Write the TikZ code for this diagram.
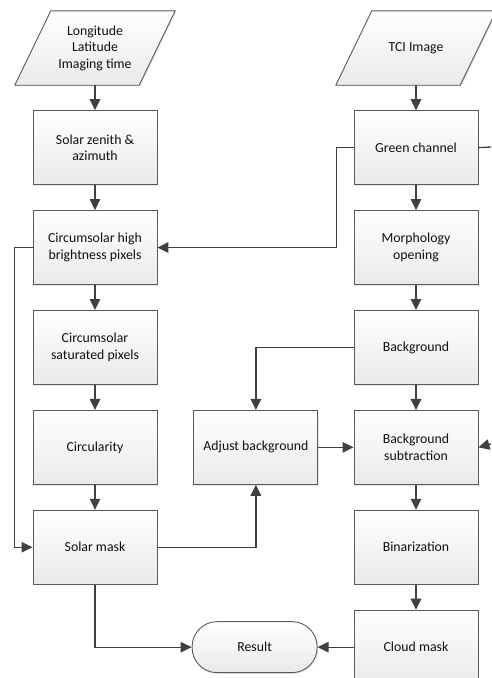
\documentclass[tikz,border=0pt]{standalone}
\usepackage{fontspec}
\setmainfont{Carlito}
\usepackage{tikz}
\usetikzlibrary{arrows.meta,positioning,shadows,backgrounds}

\definecolor{lineclr}{HTML}{404040}
\definecolor{edgeclr}{HTML}{5A5A5A}
\definecolor{txtclr}{HTML}{101010}

\begin{document}
\begin{tikzpicture}[
    x=1pt, y=-1pt,
    node distance=25pt,
    font=\fontsize{13.8}{16.5}\selectfont, text=txtclr,
    boxfill/.style={draw=edgeclr, line width=0.9pt, top color=white, bottom color=gray!17,
        drop shadow={shadow xshift=1.2pt, shadow yshift=-1.2pt, opacity=0.2}},
    box/.style={rectangle, boxfill, minimum width=124pt, minimum height=74pt, align=center, inner sep=2pt},
    io/.style={rectangle, minimum width=124pt, minimum height=74pt, align=center, inner sep=2pt},
    term/.style={box, rounded corners=25pt, minimum width=125pt, minimum height=51pt},
    arrow/.style={-{Triangle[length=11pt,width=10.5pt]}, draw=lineclr, line width=1.3pt},
    link/.style={draw=lineclr, line width=1.3pt}
]
    \useasboundingbox (0,0) rectangle (491,678);

    % solar branch
    \node[io] (geo) at (95,48) {Longitude\\Latitude\\Imaging time};
    \node[box, below=of geo] (zenith) {Solar zenith \&\\azimuth};
    \node[box, below=of zenith] (high) {Circumsolar high\\brightness pixels};
    \node[box, below=of high] (satur) {Circumsolar\\saturated pixels};
    \node[box, below=of satur] (circ) {Circularity};
    \node[box, below=of circ] (smask) {Solar mask};

    % cloud branch
    \node[io] (tci) at (416,48) {TCI Image};
    \node[box, below=of tci] (green) {Green channel};
    \node[box, below=of green] (morph) {Morphology\\opening};
    \node[box, below=of morph] (backg) {Background};
    \node[box, below=of backg] (bsub) {Background\\subtraction};
    \node[box, below=of bsub] (binar) {Binarization};
    \node[box, below=of binar] (cmask) {Cloud mask};

    \node[box, right=36pt of circ] (adjust) {Adjust background};
    \node[term, left=36pt of cmask] (result) {Result};

    % slanted input boxes
    \begin{scope}[on background layer]
        \foreach \n in {geo,tci}
            \path[boxfill] ([xshift=18pt]\n.north west) -- ([xshift=18pt]\n.north east)
                -- ([xshift=-18pt]\n.south east) -- ([xshift=-18pt]\n.south west) -- cycle;
    \end{scope}

    \coordinate (greenout) at (491,147);
    \coordinate (bsubin) at (491,444);

    \draw[arrow] (geo) -- (zenith);
    \draw[arrow] (zenith) -- (high);
    \draw[arrow] (high) -- (satur);
    \draw[arrow] (satur) -- (circ);
    \draw[arrow] (circ) -- (smask);

    \draw[arrow] (tci) -- (green);
    \draw[arrow] (green) -- (morph);
    \draw[arrow] (morph) -- (backg);
    \draw[arrow] (backg) -- (bsub);
    \draw[arrow] (bsub) -- (binar);
    \draw[arrow] (binar) -- (cmask);

    \draw[arrow] (green.west) -- ++(-17,0) |- (high.east);
    \draw[link] (green.east) -- (greenout);
    \draw[arrow] (high.west) -- ++(-18,0) |- (smask.west);
    \draw[arrow] (backg.west) -| (adjust.north);
    \draw[arrow] (smask.east) -| (adjust.south);
    \draw[arrow] (adjust) -- (bsub);
    \draw[arrow] (bsubin) -- (bsub.east);
    \draw[arrow] (smask.south) |- (result.west);
    \draw[arrow] (cmask) -- (result);
\end{tikzpicture}
\end{document}
